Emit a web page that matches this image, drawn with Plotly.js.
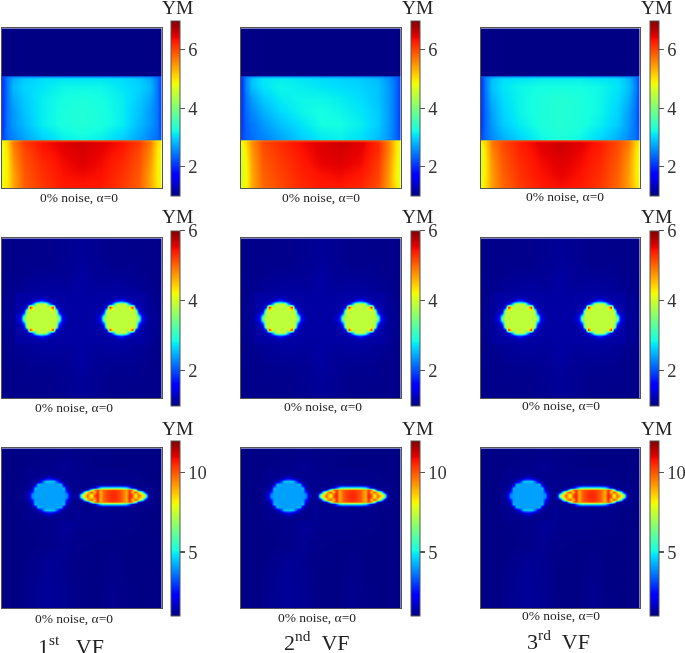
<!DOCTYPE html>
<html><head><meta charset="utf-8">
<script src="https://cdn.plot.ly/plotly-3.0.1.min.js"></script>
<style>html,body{margin:0;padding:0;background:#fff}#gd{width:685px;height:653px;filter:blur(0.35px)}</style>
</head><body><div id="gd"></div>
<script>
// ---------- values ----------
const bandX = [0.5,3,7,14,25,38,50,62,75,86,93,97,99.5];
const bandY = [0,29.9,30.3,31.5,36,44,52,60,69.7,70.3,71.5,76,84,92,99.7];
const navyRow = [1.02,1.02,1.02,1.02,1.02,1.02,1.02,1.02,1.02,1.02,1.02,1.02,1.02];

const layersVF1 = [navyRow,navyRow,
[2.2,2.3,2.5,2.5,2.5,2.5,2.5,2.5,2.5,2.5,2.5,2.3,2.2],
[2.1,2.45,2.75,2.95,3.05,3.1,3.1,3.1,3.05,2.95,2.75,2.45,2.1],
[2.1,2.45,2.85,3.0,3.1,3.2,3.2,3.2,3.1,3.0,2.85,2.45,2.1],
[2.1,2.45,2.75,2.95,3.15,3.25,3.3,3.25,3.15,2.95,2.75,2.45,2.1],
[2.1,2.45,2.65,2.9,3.15,3.28,3.33,3.28,3.15,2.9,2.65,2.45,2.1],
[2.1,2.45,2.65,2.85,3.15,3.28,3.33,3.28,3.15,2.85,2.65,2.45,2.1],
[2.2,2.4,2.5,2.7,2.95,3.15,3.2,3.15,2.95,2.7,2.5,2.4,2.2],
[4.9,5.0,5.5,5.9,6.0,6.0,6.0,6.0,6.0,5.9,5.5,5.0,4.9],
[4.9,5.1,5.7,6.1,6.35,6.5,6.6,6.5,6.35,6.1,5.7,5.1,4.9],
[4.8,5.0,5.6,6.0,6.3,6.45,6.55,6.45,6.3,6.0,5.6,5.0,4.8],
[4.8,4.95,5.5,5.95,6.2,6.4,6.5,6.4,6.2,5.95,5.5,4.95,4.8],
[4.8,4.95,5.4,5.9,6.15,6.35,6.4,6.35,6.15,5.9,5.4,4.95,4.8],
[4.9,5.0,5.4,5.85,6.1,6.3,6.3,6.3,6.1,5.85,5.4,5.0,4.9]];

const layersVF2 = [navyRow,navyRow,
[2.2,2.4,2.55,2.6,2.6,2.6,2.6,2.6,2.55,2.5,2.45,2.3,2.2],
[2.1,2.55,2.9,3.1,3.15,3.1,3.05,3.0,2.95,2.85,2.6,2.35,2.1],
[2.1,2.55,2.9,3.1,3.2,3.15,3.1,3.05,3.0,2.9,2.65,2.35,2.1],
[2.1,2.45,2.7,2.95,3.15,3.2,3.2,3.15,3.05,2.9,2.65,2.35,2.1],
[2.1,2.4,2.55,2.8,3.05,3.2,3.25,3.2,3.1,2.95,2.65,2.35,2.1],
[2.1,2.35,2.45,2.65,2.9,3.1,3.25,3.25,3.15,2.95,2.65,2.35,2.1],
[2.2,2.3,2.4,2.5,2.7,2.95,3.1,3.15,3.05,2.85,2.6,2.35,2.2],
[4.9,5.0,5.4,5.8,5.9,6.0,6.0,6.0,6.0,5.9,5.5,5.0,4.9],
[4.9,5.1,5.6,6.0,6.2,6.4,6.5,6.6,6.5,6.2,5.6,5.0,4.8],
[4.7,5.0,5.5,5.95,6.15,6.35,6.5,6.55,6.45,6.2,5.6,5.0,4.7],
[4.7,4.9,5.45,5.9,6.1,6.3,6.45,6.5,6.4,6.1,5.5,4.95,4.7],
[4.7,4.85,5.4,5.85,6.05,6.25,6.35,6.4,6.3,6.05,5.45,4.9,4.7],
[4.8,4.9,5.4,5.8,6.0,6.2,6.3,6.3,6.2,5.95,5.4,5.0,4.8]];

const layersVF3 = [navyRow,navyRow,
[2.3,2.4,2.55,2.6,2.6,2.65,2.65,2.65,2.6,2.6,2.55,2.4,2.3],
[2.1,2.5,2.85,3.05,3.1,3.15,3.15,3.15,3.1,3.05,2.85,2.45,2.1],
[2.1,2.5,2.9,3.1,3.2,3.25,3.25,3.25,3.2,3.1,2.9,2.5,2.1],
[2.1,2.45,2.8,3.05,3.2,3.3,3.35,3.3,3.2,3.05,2.8,2.45,2.1],
[2.1,2.4,2.7,3.0,3.2,3.3,3.35,3.3,3.2,3.0,2.7,2.4,2.1],
[2.1,2.4,2.65,2.95,3.15,3.3,3.35,3.3,3.15,2.95,2.65,2.4,2.1],
[2.25,2.4,2.55,2.75,3.0,3.2,3.3,3.2,3.0,2.75,2.55,2.4,2.25],
[5.0,5.1,5.6,5.9,6.0,6.1,6.1,6.1,6.0,5.9,5.6,5.1,5.0],
[4.9,5.15,5.7,6.0,6.3,6.5,6.6,6.5,6.3,6.0,5.7,5.15,4.9],
[4.75,5.05,5.6,5.95,6.25,6.45,6.58,6.45,6.25,5.95,5.6,5.05,4.75],
[4.75,5.0,5.5,5.9,6.2,6.4,6.5,6.4,6.2,5.9,5.5,5.0,4.75],
[4.8,5.0,5.45,5.85,6.15,6.35,6.45,6.35,6.15,5.85,5.45,5.0,4.8],
[4.85,5.05,5.45,5.8,6.1,6.3,6.35,6.3,6.1,5.8,5.45,5.05,4.85]];

const fieldX = [0,10,20,30,40,50,60,70,80,90,100];
const fieldY = [0,10,20,30,40,50,60,70,80,90,100];
const twoDiscField = [
[1.04,1.04,1.05,1.05,1.07,1.1,1.07,1.05,1.05,1.04,1.04],
[1.04,1.05,1.05,1.05,1.07,1.11,1.07,1.05,1.05,1.05,1.04],
[1.04,1.05,1.07,1.07,1.09,1.13,1.09,1.07,1.07,1.05,1.04],
[1.04,1.07,1.11,1.13,1.11,1.15,1.11,1.13,1.11,1.07,1.04],
[1.05,1.11,1.15,1.17,1.15,1.15,1.15,1.17,1.15,1.11,1.05],
[1.05,1.13,1.15,1.17,1.15,1.15,1.15,1.17,1.15,1.13,1.05],
[1.05,1.11,1.15,1.17,1.15,1.15,1.15,1.17,1.15,1.11,1.05],
[1.04,1.07,1.11,1.13,1.11,1.15,1.11,1.13,1.11,1.07,1.04],
[1.04,1.05,1.07,1.07,1.09,1.13,1.09,1.07,1.07,1.05,1.04],
[1.04,1.05,1.05,1.05,1.07,1.11,1.07,1.05,1.05,1.05,1.04],
[1.04,1.04,1.05,1.05,1.07,1.1,1.07,1.05,1.05,1.04,1.04]];
const discAndEllipseField = [
[1.04,1.04,1.05,1.06,1.08,1.06,1.05,1.04,1.04,1.04,1.04],
[1.04,1.05,1.08,1.12,1.16,1.1,1.06,1.05,1.05,1.05,1.04],
[1.04,1.06,1.12,1.14,1.22,1.12,1.12,1.12,1.12,1.06,1.04],
[1.05,1.08,1.12,1.16,1.26,1.12,1.12,1.12,1.12,1.08,1.05],
[1.04,1.06,1.12,1.14,1.26,1.14,1.14,1.14,1.12,1.06,1.04],
[1.04,1.05,1.08,1.12,1.22,1.12,1.12,1.1,1.08,1.05,1.04],
[1.04,1.04,1.06,1.12,1.16,1.08,1.06,1.06,1.05,1.04,1.04],
[1.04,1.04,1.12,1.2,1.14,1.06,1.05,1.1,1.05,1.04,1.04],
[1.04,1.04,1.14,1.22,1.14,1.05,1.05,1.12,1.05,1.04,1.04],
[1.04,1.04,1.16,1.24,1.16,1.05,1.05,1.14,1.06,1.04,1.04],
[1.04,1.04,1.16,1.24,1.16,1.05,1.05,1.14,1.06,1.04,1.04]];

const discOffsets = [-15,-13,-11,-9,-7,-5,-3,-1,1,3,5,7,9,11,13,15];
const greenDisc = [
[1.15,1.15,1.15,1.15,1.15,1.15,1.15,1.15,1.15,1.15,1.15,1.15,1.15,1.15,1.15,1.15],
[1.15,1.15,1.15,1.15,1.15,1.17,1.2,1.25,1.25,1.2,1.17,1.15,1.15,1.15,1.15,1.15],
[1.15,1.15,1.15,1.2,1.25,1.3,1.5,1.9,1.9,1.5,1.3,1.25,1.2,1.15,1.15,1.15],
[1.15,1.15,1.2,1.25,1.3,2.6,3.9,3.9,3.9,3.9,2.6,1.3,1.25,1.2,1.15,1.15],
[1.15,1.2,1.25,1.4,5.6,3.9,3.9,3.9,3.9,3.9,3.9,5.6,1.4,1.25,1.2,1.15],
[1.15,1.25,1.4,3.9,3.9,3.9,3.9,3.9,3.9,3.9,3.9,3.9,3.9,1.4,1.25,1.15],
[1.2,1.4,2.2,3.9,3.9,3.9,3.9,3.9,3.9,3.9,3.9,3.9,3.9,2.2,1.4,1.2],
[1.3,1.7,3.4,3.9,3.9,3.9,3.9,3.9,3.9,3.9,3.9,3.9,3.9,3.4,1.7,1.3],
[1.3,1.7,3.4,3.9,3.9,3.9,3.9,3.9,3.9,3.9,3.9,3.9,3.9,3.4,1.7,1.3],
[1.2,1.4,2.2,3.9,3.9,3.9,3.9,3.9,3.9,3.9,3.9,3.9,3.9,2.2,1.4,1.2],
[1.15,1.25,1.4,3.9,3.9,3.9,3.9,3.9,3.9,3.9,3.9,3.9,3.9,1.4,1.25,1.15],
[1.15,1.2,1.25,1.4,5.6,3.9,3.9,3.9,3.9,3.9,3.9,5.6,1.4,1.25,1.2,1.15],
[1.15,1.15,1.2,1.25,1.3,2.6,3.9,3.9,3.9,3.9,2.6,1.3,1.25,1.2,1.15,1.15],
[1.15,1.15,1.15,1.2,1.25,1.3,1.5,1.9,1.9,1.5,1.3,1.25,1.2,1.15,1.15,1.15],
[1.15,1.15,1.15,1.15,1.15,1.17,1.2,1.25,1.25,1.2,1.17,1.15,1.15,1.15,1.15,1.15],
[1.15,1.15,1.15,1.15,1.15,1.15,1.15,1.15,1.15,1.15,1.15,1.15,1.15,1.15,1.15,1.15]];
const blueDisc = [
[1.12,1.12,1.12,1.12,1.12,1.12,1.12,1.12,1.12,1.12,1.12,1.12,1.12,1.12,1.12,1.12],
[1.12,1.12,1.12,1.12,1.12,1.14,1.2,1.25,1.25,1.2,1.14,1.12,1.12,1.12,1.12,1.12],
[1.12,1.12,1.12,1.2,1.25,1.3,1.5,2.0,2.0,1.5,1.3,1.25,1.2,1.12,1.12,1.12],
[1.12,1.12,1.2,1.25,1.3,2.8,4.4,4.5,4.5,4.4,2.8,1.3,1.25,1.2,1.12,1.12],
[1.12,1.2,1.25,1.4,4.4,4.1,4.1,4.1,4.1,4.1,4.1,4.4,1.4,1.25,1.2,1.12],
[1.12,1.25,1.4,4.4,4.1,4.1,4.1,4.1,4.1,4.1,4.1,4.1,4.4,1.4,1.25,1.12],
[1.2,1.4,2.4,4.1,4.1,4.1,4.1,4.1,4.1,4.1,4.1,4.1,4.1,2.4,1.4,1.2],
[1.3,1.7,3.8,4.1,4.1,4.1,4.1,4.1,4.1,4.1,4.1,4.1,4.1,3.8,1.7,1.3],
[1.3,1.7,3.8,4.1,4.1,4.1,4.1,4.1,4.1,4.1,4.1,4.1,4.1,3.8,1.7,1.3],
[1.2,1.4,2.4,4.1,4.1,4.1,4.1,4.1,4.1,4.1,4.1,4.1,4.1,2.4,1.4,1.2],
[1.12,1.25,1.4,4.4,4.1,4.1,4.1,4.1,4.1,4.1,4.1,4.1,4.4,1.4,1.25,1.12],
[1.12,1.2,1.25,1.4,4.4,4.1,4.1,4.1,4.1,4.1,4.1,4.4,1.4,1.25,1.2,1.12],
[1.12,1.12,1.2,1.25,1.3,2.8,4.4,4.5,4.5,4.4,2.8,1.3,1.25,1.2,1.12,1.12],
[1.12,1.12,1.12,1.2,1.25,1.3,1.5,2.0,2.0,1.5,1.3,1.25,1.2,1.12,1.12,1.12],
[1.12,1.12,1.12,1.12,1.12,1.14,1.2,1.25,1.25,1.2,1.14,1.12,1.12,1.12,1.12,1.12],
[1.12,1.12,1.12,1.12,1.12,1.12,1.12,1.12,1.12,1.12,1.12,1.12,1.12,1.12,1.12,1.12]];

const ellipseOffsetsX = [-24,-22,-20,-18,-16,-14,-12,-10,-8,-6,-4,-2,0,2,4,6,8,10,12,14,16,18,20,22,24];
const ellipseOffsetsY = [-6.75,-5.25,-3.75,-2.25,-0.75,0.75,2.25,3.75,5.25,6.75];
const redEllipse = [
[1.12,1.12,1.12,1.12,1.12,1.12,1.15,1.2,1.3,1.3,1.3,1.3,1.3,1.3,1.3,1.3,1.3,1.2,1.15,1.12,1.12,1.12,1.12,1.12,1.12],
[1.12,1.12,1.12,1.12,1.15,1.3,1.8,3.6,5.0,5.6,5.6,5.6,5.6,5.6,5.6,5.6,5.0,3.6,1.8,1.3,1.15,1.12,1.12,1.12,1.12],
[1.12,1.12,1.12,1.2,2.0,6.5,9.5,10.4,9.2,9.8,10.1,10.3,10.4,10.3,10.1,9.8,9.2,10.4,9.5,6.5,2.0,1.2,1.12,1.12,1.12],
[1.12,1.12,1.5,5.5,8.5,10.4,8.5,10.6,8.8,9.8,10.2,10.4,10.5,10.4,10.2,9.8,8.8,10.6,8.5,10.4,8.5,5.5,1.5,1.12,1.12],
[1.12,1.5,6.5,8.3,9.8,7.8,10.0,10.7,9.0,9.8,10.2,10.5,10.6,10.5,10.2,9.8,9.0,10.7,10.0,7.8,9.8,8.3,6.5,1.5,1.12],
[1.12,1.5,6.5,8.3,9.8,7.8,10.0,10.7,9.0,9.8,10.2,10.5,10.6,10.5,10.2,9.8,9.0,10.7,10.0,7.8,9.8,8.3,6.5,1.5,1.12],
[1.12,1.12,1.5,5.5,8.5,10.4,8.5,10.6,8.8,9.8,10.2,10.4,10.5,10.4,10.2,9.8,8.8,10.6,8.5,10.4,8.5,5.5,1.5,1.12,1.12],
[1.12,1.12,1.12,1.2,2.0,6.5,9.5,10.4,9.2,9.8,10.1,10.3,10.4,10.3,10.1,9.8,9.2,10.4,9.5,6.5,2.0,1.2,1.12,1.12,1.12],
[1.12,1.12,1.12,1.12,1.15,1.3,1.8,3.6,5.0,5.6,5.6,5.6,5.6,5.6,5.6,5.6,5.0,3.6,1.8,1.3,1.15,1.12,1.12,1.12,1.12],
[1.12,1.12,1.12,1.12,1.12,1.12,1.15,1.2,1.3,1.3,1.3,1.3,1.3,1.3,1.3,1.3,1.3,1.2,1.15,1.12,1.12,1.12,1.12,1.12,1.12]];

const rowRanges = [[1,7],[1,6],[1,12]];
const rowTicks = [[2,4,6],[2,4,6],[5,10]];
const captionText = '0% noise, α=0';
const columnLabels = ['1<sup>st</sup>\u00a0\u00a0\u00a0VF','2<sup>nd</sup>\u00a0\u00a0VF','3<sup>rd</sup>\u00a0\u00a0VF'];

// ---------- layout, in page pixels ----------
const W = 685, H = 653;
const colLeft = [2,241,480.5], panelW = 159.5;
const rowTop = [28.3,238.3,448.3], panelH = 160;
const barLeft = [171,410.5,650], barW = 9;
const barTop = [20.7,230.7,440.7], barH = 175.3;
const ymY = [8,216.5,428];
const captionXY = [[[79,198],[320.7,197],[564.7,196.7]],[[74,407.7],[323,406.5],[561,405.5]],[[74,618],[317.3,617.3],[560.8,615]]];
const labelXY = [[71,645],[316.5,640.7],[558.5,640]];
const discCentresRow2 = [24.6,74.6];
const jet = [[0,'rgb(0,0,128)'],[0.11,'rgb(0,0,255)'],[0.125,'rgb(0,0,255)'],[0.34,'rgb(0,219,255)'],[0.35,'rgb(0,230,247)'],[0.375,'rgb(21,255,226)'],[0.64,'rgb(238,255,8)'],[0.65,'rgb(247,245,0)'],[0.66,'rgb(255,236,0)'],[0.89,'rgb(255,19,0)'],[0.91,'rgb(232,0,0)'],[1,'rgb(128,0,0)']];
const serif = '"Liberation Serif", serif', ink = '#555';
const px = v => v / W, py = v => 1 - v / H;
const shift = (arr, c) => arr.map(v => v + c);

const traces = [], layout = {
  width: W, height: H, margin: {l:0,r:0,t:0,b:0,autoexpand:false}, showlegend: false,
  paper_bgcolor: '#fff', plot_bgcolor: '#fff', annotations: []
};
const note = (text, x, y, size) => layout.annotations.push({text, x:px(x), y:py(y), xref:'paper', yref:'paper', xanchor:'center', yanchor:'middle', showarrow:false, font:{family:serif, size, color:'#222'}});
const layers = [layersVF1, layersVF2, layersVF3];

for (let r = 0; r < 3; r++) for (let c = 0; c < 3; c++) {
  const n = r * 3 + c + 1, xa = 'x' + (n > 1 ? n : ''), ya = 'y' + (n > 1 ? n : '');
  const axis = {showgrid:false, zeroline:false, showticklabels:false, ticks:'', showline:true, mirror:true, linecolor:ink, linewidth:1, range:[0,100]};
  layout['xaxis' + (n > 1 ? n : '')] = {...axis, anchor:ya, domain:[px(colLeft[c]), px(colLeft[c] + panelW)]};
  layout['yaxis' + (n > 1 ? n : '')] = {...axis, range:[100,0], anchor:xa, domain:[py(rowTop[r] + panelH), py(rowTop[r])]};
  const base = {type:'heatmap', xaxis:xa, yaxis:ya, zsmooth:'best', colorscale:jet, zmin:rowRanges[r][0], zmax:rowRanges[r][1], hoverinfo:'skip'};
  const bar = {x:px(barLeft[c]), xanchor:'left', xpad:0, y:py(barTop[r]), yanchor:'top', ypad:0, len:barH, lenmode:'pixels', thickness:barW, thicknessmode:'pixels', outlinecolor:ink, outlinewidth:1, borderwidth:0, ticks:'outside', ticklen:4.5, tickwidth:1.2, tickcolor:ink, tickvals:rowTicks[r], tickfont:{family:serif, size:18.5, color:'#333'}};
  if (r === 0) {
    traces.push({...base, x:bandX, y:bandY, z:layers[c], showscale:true, colorbar:bar});
  } else if (r === 1) {
    traces.push({...base, x:fieldX, y:fieldY, z:twoDiscField, showscale:true, colorbar:bar});
    discCentresRow2.forEach(cx => traces.push({...base, x:shift(discOffsets,cx), y:shift(discOffsets,50), z:greenDisc, showscale:false}));
  } else {
    traces.push({...base, x:fieldX, y:fieldY, z:discAndEllipseField, showscale:true, colorbar:bar});
    traces.push({...base, x:shift(discOffsets,29.6), y:shift(discOffsets,29.6), z:blueDisc, showscale:false});
    traces.push({...base, x:shift(ellipseOffsetsX,69.7), y:shift(ellipseOffsetsY,29.6), z:redEllipse, showscale:false});
  }
  note('YM', barLeft[c] + 6.5, ymY[r], 19.5);
  note(captionText, captionXY[r][c][0], captionXY[r][c][1], 13.5);
}
columnLabels.forEach((t, c) => note(t, labelXY[c][0], labelXY[c][1], 22));

Plotly.newPlot('gd', traces, layout, {displayModeBar:false, staticPlot:true});
</script></body></html>
